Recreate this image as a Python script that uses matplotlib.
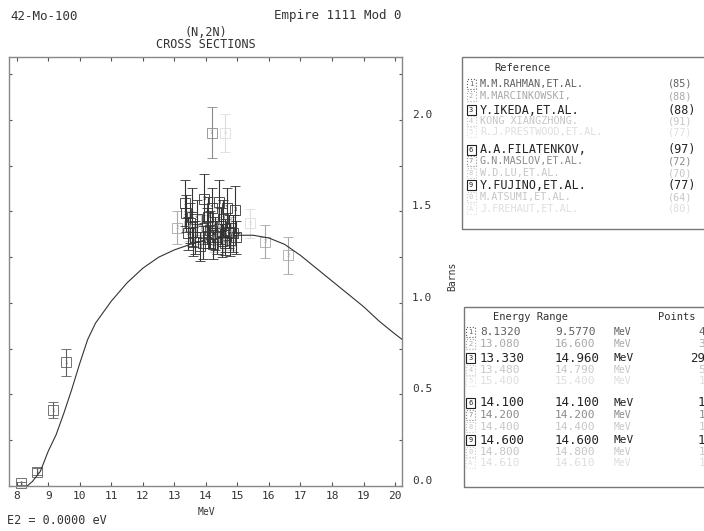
import matplotlib
matplotlib.use("Agg")
import matplotlib.pyplot as plt
from matplotlib.patches import Rectangle
from matplotlib.ticker import MultipleLocator, FormatStrFormatter
from matplotlib.transforms import ScaledTranslation

plt.rcParams['font.family'] = ['DejaVu Sans Mono']

W, H = 704, 531

# ---------------- data ----------------
curve_e = [8.33, 8.5, 8.75, 9.0, 9.25, 9.5, 9.75, 10.0, 10.25, 10.5, 10.75, 11.0, 11.5, 12.0,
           12.5, 13.0, 13.5, 14.0, 14.5, 15.0, 15.5, 16.0, 16.5, 17.0, 17.5, 18.0, 18.5, 19.0,
           19.5, 20.0, 20.23]
curve_s = [0.0, 0.025, 0.08, 0.19, 0.28, 0.40, 0.53, 0.67, 0.80, 0.89, 0.95, 1.01, 1.11, 1.19,
           1.25, 1.29, 1.32, 1.345, 1.36, 1.37, 1.37, 1.355, 1.32, 1.26, 1.19, 1.12, 1.05, 0.98,
           0.90, 0.83, 0.80]

s1_e = [8.13, 8.63, 9.16, 9.56]
s1_y = [0.015, 0.078, 0.415, 0.676]
s1_err = [0.008, 0.02, 0.045, 0.075]

s2_e = [13.08, 15.88, 16.60]
s2_y = [1.41, 1.335, 1.26]
s2_err = [0.09, 0.09, 0.10]

s3_e = [13.33, 13.36, 13.44, 13.50, 13.55, 13.60, 13.65, 13.71, 13.81, 13.92, 13.95, 14.02,
        14.08, 14.13, 14.18, 14.24, 14.30, 14.34, 14.42, 14.47, 14.50, 14.55, 14.60, 14.66,
        14.72, 14.77, 14.87, 14.92, 14.96]
s3_y = [1.545, 1.49, 1.38, 1.435, 1.47, 1.335, 1.36, 1.46, 1.31, 1.33, 1.57, 1.42,
        1.47, 1.40, 1.52, 1.32, 1.38, 1.36, 1.55, 1.42, 1.34, 1.46, 1.37, 1.52,
        1.39, 1.345, 1.38, 1.51, 1.36]
s3_err = [0.125, 0.10, 0.09, 0.11, 0.16, 0.08, 0.09, 0.10, 0.08, 0.09, 0.135, 0.10,
          0.11, 0.10, 0.11, 0.08, 0.09, 0.09, 0.12, 0.10, 0.09, 0.10, 0.09, 0.11,
          0.09, 0.09, 0.10, 0.13, 0.09]

s4_e = [13.48, 13.85, 14.25, 14.55, 14.79]
s4_y = [1.42, 1.40, 1.36, 1.34, 1.39]
s4_err = [0.08, 0.08, 0.08, 0.08, 0.08]

s5_e = [15.40]; s5_y = [1.435]; s5_err = [0.08]
s6_e = [14.10]; s6_y = [1.36]; s6_err = [0.06]
s7_e = [14.18]; s7_y = [1.93]; s7_err = [0.14]
s8_e = [14.40]; s8_y = [1.43]; s8_err = [0.09]
s9_e = [14.60]; s9_y = [1.33]; s9_err = [0.07]
s10_e = [14.80]; s10_y = [1.37]; s10_err = [0.08]
s11_e = [14.61]; s11_y = [1.93]; s11_err = [0.105]

ref_authors = ["M.M.RAHMAN,ET.AL.", "M.MARCINKOWSKI,", "Y.IKEDA,ET.AL.", "KONG XIANGZHONG.",
               "R.J.PRESTWOOD,ET.AL.", "A.A.FILATENKOV,", "G.N.MASLOV,ET.AL.", "W.D.LU,ET.AL.",
               "Y.FUJINO,ET.AL.", "M.ATSUMI,ET.AL.", "J.FREHAUT,ET.AL."]
ref_years = ["(85)", "(88)", "(88)", "(91)", "(77)", "(97)", "(72)", "(70)", "(77)", "(64)", "(80)"]
range_lo = ["8.1320", "13.080", "13.330", "13.480", "15.400", "14.100", "14.200", "14.400",
            "14.600", "14.800", "14.610"]
range_hi = ["9.5770", "16.600", "14.960", "14.790", "15.400", "14.100", "14.200", "14.400",
            "14.600", "14.800", "14.610"]
point_counts = ["4", "3", "29", "5", "1", "1", "1", "1", "1", "1", "1"]
row_tags = ["1", "2", "3", "4", "5", "6", "7", "8", "9", "0", "A"]

x_ticks = [8, 9, 10, 11, 12, 13, 14, 15, 16, 17, 18, 19, 20]

# ---------------- styles ----------------
row_colors = ['#5e5e5e', '#a8a8a8', '#222222', '#c6c6c6', '#dedede', '#222222', '#8a8a8a',
              '#c6c6c6', '#222222', '#c6c6c6', '#dedede']
row_dark = [False, False, True, False, False, True, False, False, True, False, False]

series = [(s1_e, s1_y, s1_err), (s2_e, s2_y, s2_err), (s3_e, s3_y, s3_err), (s4_e, s4_y, s4_err),
          (s5_e, s5_y, s5_err), (s6_e, s6_y, s6_err), (s7_e, s7_y, s7_err), (s8_e, s8_y, s8_err),
          (s9_e, s9_y, s9_err), (s10_e, s10_y, s10_err), (s11_e, s11_y, s11_err)]

fig = plt.figure(figsize=(W / 100, H / 100), dpi=100)


def fx(x):
    return x / W


def fy(y):
    return 1 - y / H


ax_l, ax_r, ax_t, ax_b = 9, 402.3, 57, 486
ax = fig.add_axes([fx(ax_l), fy(ax_b), (ax_r - ax_l) / W, (ax_b - ax_t) / H])
ax.set_xlim(7.756, 20.229)
ax.set_ylim(0.0, 2.344)

ax.plot(curve_e, curve_s, color='#333333', lw=0.8, zorder=3)

draw_order = [4, 10, 3, 7, 9, 1, 6, 0, 2, 5, 8]
for i in draw_order:
    e, y, err = series[i]
    c = row_colors[i]
    if row_dark[i]:
        c = '#333333'
    ax.errorbar(e, y, yerr=err, fmt='s', ms=7, mfc='none', mec=c, mew=0.6,
                ecolor=c, elinewidth=0.8, capsize=3.6, capthick=0.8,
                clip_on=False, zorder=4 if row_dark[i] else 2)
    for xe, ye in zip(e, y):
        ax.text(xe, ye, row_tags[i], fontsize=4, color=c, ha='center', va='center',
                zorder=5, clip_on=False)

for s in ax.spines.values():
    s.set_color('#888888')
    s.set_linewidth(1.0)

ax.set_xticks(x_ticks)
ax.set_xticklabels([str(v) for v in x_ticks])
ax.yaxis.set_major_locator(MultipleLocator(0.5))
ax.yaxis.set_minor_locator(MultipleLocator(0.25))
ax.yaxis.set_major_formatter(FormatStrFormatter('%.1f'))
ax.tick_params(axis='x', which='both', direction='in', top=True, bottom=True, length=3,
               width=0.8, color='#555555', labelsize=8, labelcolor='#333333', pad=3.6)
ax.tick_params(axis='y', which='both', direction='in', left=True, right=True, length=2.5,
               width=0.8, color='#555555', labelsize=8, labelcolor='#333333',
               labelleft=False, labelright=True, pad=7)
off = ScaledTranslation(0, 0.06, fig.dpi_scale_trans)
for t in ax.yaxis.get_major_ticks():
    t.label2.set_transform(t.label2.get_transform() + off)

txt = dict(color='#333333', family='DejaVu Sans Mono')
fig.text(fx(10), fy(16), "42-Mo-100", fontsize=9, ha='left', va='center', **txt)
fig.text(fx(402), fy(16), "Empire 1111 Mod 0", fontsize=9, ha='right', va='center', **txt)
fig.text(fx(206), fy(32), "(N,2N)", fontsize=8.5, ha='center', va='center', **txt)
fig.text(fx(206), fy(44), "CROSS SECTIONS", fontsize=8.5, ha='center', va='center', **txt)
fig.text(fx(206), fy(512), "MeV", fontsize=7, ha='center', va='center', **txt)
fig.text(fx(452), fy(276), "Barns", fontsize=7, ha='center', va='center', rotation=90, **txt)
fig.text(fx(7), fy(521), "E2 = 0.0000 eV", fontsize=8.5, ha='left', va='center', **txt)

# ---------------- reference box ----------------
fig.add_artist(Rectangle((fx(462), fy(229)), (720 - 462) / W, (229 - 57) / H,
                         transform=fig.transFigure, fill=False, ec='#777777', lw=1.0))
fig.text(fx(494), fy(68), "Reference", fontsize=7.5, ha='left', va='center', **txt)
ref_rows_y = [84, 96.3, 110.3, 121.3, 132.3, 149.7, 161.3, 173, 185.3, 197, 208.7]
for i, yy in enumerate(ref_rows_y):
    c = row_colors[i]
    fs = 8.5 if row_dark[i] else 7.3
    fig.add_artist(Rectangle((fx(466.5), fy(yy + 5)), 9 / W, 10 / H, transform=fig.transFigure,
                             fill=False, ec=c, lw=0.8, ls='-' if row_dark[i] else ':'))
    fig.text(fx(471), fy(yy), row_tags[i], fontsize=5, color=c, ha='center', va='center')
    fig.text(fx(480), fy(yy), ref_authors[i], fontsize=fs, color=c, ha='left', va='center')
    fig.text(fx(668), fy(yy), ref_years[i], fontsize=fs, color=c, ha='left', va='center')

# ---------------- energy range box ----------------
fig.add_artist(Rectangle((fx(464), fy(487)), (720 - 464) / W, (487 - 307) / H,
                         transform=fig.transFigure, fill=False, ec='#777777', lw=1.0))
fig.text(fx(493), fy(317), "Energy Range", fontsize=7.5, ha='left', va='center', **txt)
fig.text(fx(658), fy(317), "Points", fontsize=7.5, ha='left', va='center', **txt)
en_rows_y = [332, 344, 358, 370, 381, 403, 415, 427, 440, 452, 463]
for i, yy in enumerate(en_rows_y):
    c = row_colors[i]
    fs = 9 if row_dark[i] else 8
    fig.add_artist(Rectangle((fx(466), fy(yy + 5)), 9 / W, 10 / H, transform=fig.transFigure,
                             fill=False, ec=c, lw=0.8, ls='-' if row_dark[i] else ':'))
    fig.text(fx(470.5), fy(yy), row_tags[i], fontsize=5, color=c, ha='center', va='center')
    fig.text(fx(480), fy(yy), range_lo[i], fontsize=fs, color=c, ha='left', va='center')
    fig.text(fx(555), fy(yy), range_hi[i], fontsize=fs, color=c, ha='left', va='center')
    fig.text(fx(614), fy(yy), "MeV", fontsize=fs - 1, color=c, ha='left', va='center')
    fig.text(fx(705), fy(yy), point_counts[i], fontsize=fs, color=c, ha='right', va='center')

fig.savefig("out.png", dpi=100)
